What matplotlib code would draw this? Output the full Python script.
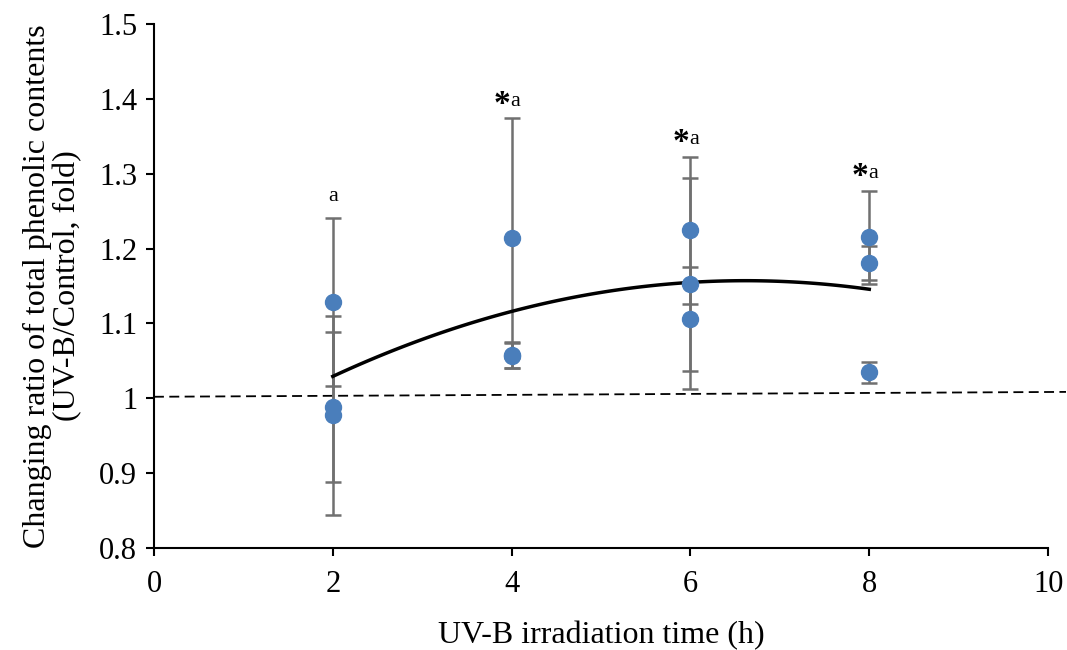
import numpy as np
import matplotlib
matplotlib.use("Agg")
import matplotlib.pyplot as plt

plt.rcParams['font.family'] = ['Liberation Serif', 'DejaVu Serif']

# replicate ratios (UV-B/Control)
hours = [2, 2, 2, 4, 4, 4, 6, 6, 6, 8, 8, 8]
ratio = [1.129, 0.988, 0.977, 1.214, 1.058, 1.057,
         1.2245, 1.153, 1.106, 1.215, 1.181, 1.0345]
err = [0.112, 0.100, 0.133, 0.160, 0.017, 0.017,
       0.0985, 0.141, 0.0695, 0.0625, 0.023, 0.0145]

# control reference line
ctrl_x = [0, 10.2]
ctrl_y = [1.002, 1.0085]

# significance labels
label_x = [2, 4, 6, 8]
label_y = [1.27, 1.397, 1.346, 1.3]
label_star = [False, True, True, True]

fig = plt.figure(figsize=(10.67, 6.5), dpi=100)
ax = fig.add_axes([0.1443, 0.157, 0.838, 0.806])

ax.plot(ctrl_x, ctrl_y, color='black', lw=1.3, ls=(0, (5.5, 3)), zorder=1, clip_on=False)

ax.errorbar(hours, ratio, yerr=err, fmt='none', ecolor='#707070', elinewidth=1.8,
            capsize=6, capthick=1.8, zorder=2)

# second-order polynomial trendline
coef = np.polyfit(hours, ratio, 2)
xs = np.linspace(2, 8, 100)
ax.plot(xs, np.polyval(coef, xs), color='black', lw=2.5, zorder=3)

ax.plot(hours, ratio, 'o', color='#4a7ebb', markersize=11.5, zorder=4)

for x, y, s in zip(label_x, label_y, label_star):
    if s:
        ax.text(x - 0.01, y - 0.004, '*', fontsize=24, fontweight='bold', ha='right', va='center')
        ax.text(x - 0.01, y, 'a', fontsize=16, ha='left', va='center')
    else:
        ax.text(x, y, 'a', fontsize=16, ha='center', va='center')

ax.set_xlim(0, 10)
ax.set_ylim(0.8, 1.5)
ax.set_xticks([0, 2, 4, 6, 8, 10])
ax.set_yticks([0.8, 0.9, 1.0, 1.1, 1.2, 1.3, 1.4, 1.5])
ax.set_yticklabels(['0.8', '0.9', '1', '1.1', '1.2', '1.3', '1.4', '1.5'])
ax.spines['top'].set_visible(False)
ax.spines['right'].set_visible(False)
for sp in ['left', 'bottom']:
    ax.spines[sp].set_linewidth(1.5)
ax.tick_params(direction='out', length=6, width=1.5, labelsize=22, pad=6)
ax.tick_params(axis='x', pad=10)

ax.set_xlabel('UV-B irradiation time (h)', fontsize=23, labelpad=16)
ax.set_ylabel('Changing ratio of total phenolic contents\n(UV-B/Control, fold)',
              fontsize=23, labelpad=12, linespacing=1.05)

fig.savefig('out.png', dpi=100)
